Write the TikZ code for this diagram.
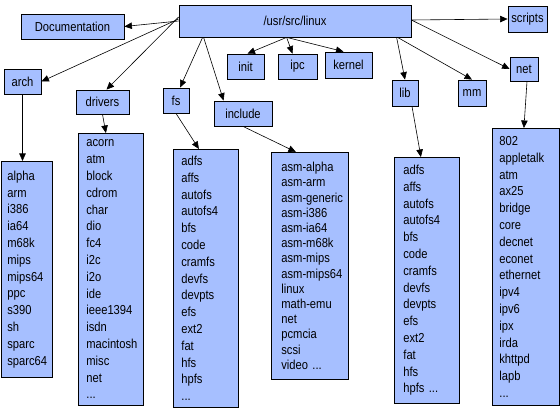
\documentclass[tikz,border=0pt]{standalone}
\usepackage{fontspec}
\setmainfont{Liberation Sans}[FakeStretch=0.86]
\usetikzlibrary{arrows.meta}
\definecolor{boxblue}{RGB}{166,191,255}
\tikzset{
  box/.style={draw=black, line width=0.8pt, fill=boxblue, inner sep=0pt,
    font=\fontsize{13}{15}\selectfont},
  listbox/.style={draw=black, line width=0.8pt, fill=boxblue, inner ysep=0pt,
    align=left, anchor=north west, font=\fontsize{13}{16.8}\selectfont,
    execute at begin node={\hyphenpenalty=10000\exhyphenpenalty=10000}},
  conn/.style={draw=black, line width=0.6pt, -{Triangle[length=7.5pt,width=6.5pt]}},
}
\begin{document}
\begin{tikzpicture}[x=1pt,y=-1pt]
\useasboundingbox (0,0) rectangle (560,409);
% top-level boxes
\node[box, minimum width=232pt, minimum height=32pt] (root) at (295,21) {/usr/src/linux};
\node[box, minimum width=103pt, minimum height=25pt] (doc) at (72.5,26.5) {Documentation};
\node[box, minimum width=39pt, minimum height=26pt] (scripts) at (527.5,19) {scripts};
\node[box, minimum width=37pt, minimum height=25pt] (arch) at (22.5,81.5) {arch};
\node[box, minimum width=53pt, minimum height=24pt] (drivers) at (102.5,102) {drivers};
\node[box, minimum width=26pt, minimum height=25pt] (fs) at (176,100.5) {fs};
\node[box, minimum width=58pt, minimum height=25pt] (include) at (243,113.5) {include};
\node[box, minimum width=37pt, minimum height=25pt] (init) at (245.5,66.5) {init};
\node[box, minimum width=39pt, minimum height=25pt] (ipc) at (297.5,66.5) {ipc};
\node[box, minimum width=47pt, minimum height=26pt] (kernel) at (348.5,65) {kernel};
\node[box, minimum width=26pt, minimum height=26pt] (lib) at (405,93) {lib};
\node[box, minimum width=28pt, minimum height=26pt] (mm) at (472,93) {mm};
\node[box, minimum width=28pt, minimum height=24pt] (net) at (524,69) {net};
% lists
\node[listbox, inner xsep=6pt, text width=39pt, minimum height=216pt] (archlist) at (1,161)
  {alpha\\arm\\i386\\ia64\\m68k\\mips\\mips64\\ppc\\s390\\sh\\sparc\\sparc64};
\node[listbox, inner xsep=8pt, text width=49pt, minimum height=272pt] (drvlist) at (78,133)
  {acorn\\atm\\block\\cdrom\\char\\dio\\fc4\\i2c\\i2o\\ide\\ieee1394\\isdn\\macintosh\\misc\\net\\...};
\node[listbox, inner xsep=8pt, text width=49pt, minimum height=258pt] (fslist) at (173,149)
  {adfs\\affs\\autofs\\autofs4\\bfs\\code\\cramfs\\devfs\\devpts\\efs\\ext2\\fat\\hfs\\hpfs\\...};
\node[listbox, inner xsep=10pt, text width=57pt, minimum height=227pt,
  font=\fontsize{13}{15.2}\selectfont] (inclist) at (271,152)
  {asm-alpha\\asm-arm\\asm-generic\\asm-i386\\asm-ia64\\asm-m68k\\asm-mips\\asm-mips64\\linux\\math-emu\\net\\pcmcia\\scsi\\video ...};
\node[listbox, inner xsep=9pt, text width=47pt, minimum height=246pt] (liblist) at (394,157)
  {adfs\\affs\\autofs\\autofs4\\bfs\\code\\cramfs\\devfs\\devpts\\efs\\ext2\\fat\\hfs\\hpfs ...};
\node[listbox, inner xsep=7pt, text width=53pt, minimum height=277pt] (netlist) at (492,128)
  {802\\appletalk\\atm\\ax25\\bridge\\core\\decnet\\econet\\ethernet\\ipv4\\ipv6\\ipx\\irda\\khttpd\\lapb\\...};
% fan-out points on root
\coordinate (rw1) at ([yshift=2pt]root.west);
\coordinate (rw2) at ([yshift=4pt]root.west);
\coordinate (rs1) at ([xshift=24pt]root.south west);
\coordinate (rs2) at ([xshift=25pt]root.south west);
\coordinate (rs3) at ([xshift=108pt]root.south west);
\coordinate (rs4) at ([xshift=218pt]root.south west);
\coordinate (rs5) at ([xshift=219pt]root.south west);
% connectors
\draw[conn] (root.west) -- (doc.east);
\draw[conn] (rw1) -- (arch.east);
\draw[conn] (rw2) -- ([xshift=4pt]drivers.north);
\draw[conn] (rs1) -- ([xshift=4pt]fs.north);
\draw[conn] (rs2) -- ([xshift=10pt]include.north west);
\draw[conn] (rs3) -- ([xshift=2pt]init.north);
\draw[conn] (rs3) -- ([xshift=-5pt]ipc.north);
\draw[conn] (rs3) -- ([xshift=-5pt]kernel.north);
\draw[conn] ([yshift=1pt]root.east) -- (scripts.west);
\draw[conn] (rs4) -- (lib.north);
\draw[conn] (rs5) -- (mm.north);
\draw[conn] ([yshift=1pt]root.east) -- (net.west);
\draw[conn] (arch.south) -- (arch.south |- archlist.north);
\draw[conn] (drivers.south) -- ([xshift=-5pt]drvlist.north);
\draw[conn] (fs.south) -- ([xshift=-7pt]fslist.north);
\draw[conn] (include.south) -- ([xshift=-14pt]inclist.north);
\draw[conn] ([xshift=7pt]lib.south) -- ([xshift=-6pt]liblist.north);
\draw[conn] ([xshift=3pt]net.south) -- ([xshift=-2pt]netlist.north);
\end{tikzpicture}
\end{document}
